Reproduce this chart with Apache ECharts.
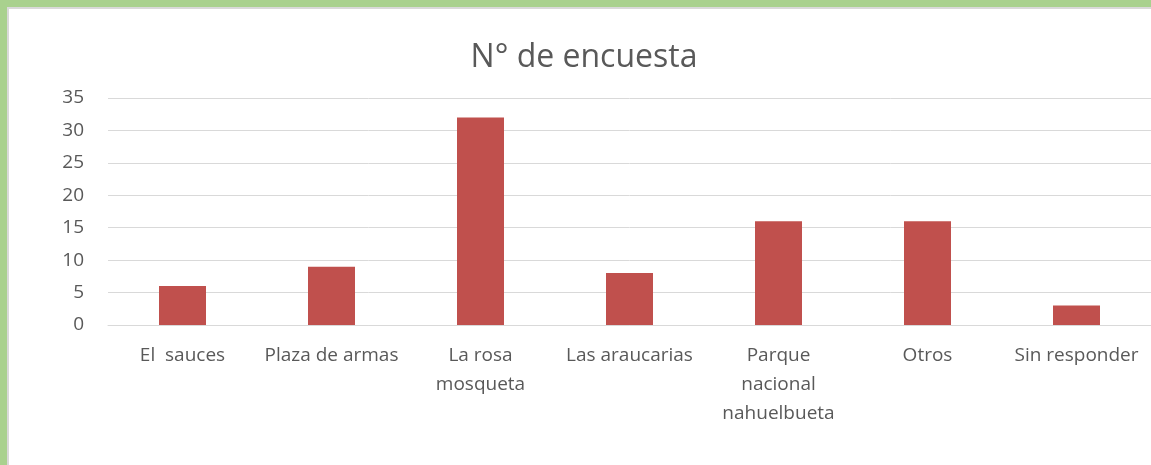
<!DOCTYPE html>
<html>
<head>
<meta charset="utf-8">
<script src="https://cdn.jsdelivr.net/npm/echarts@6/dist/echarts.min.js"></script>
<style>
  html, body { margin: 0; padding: 0; background: #fff; }
  #frame { width: 1144px; height: 458px; border-top: 7px solid #a9d18e; border-left: 7px solid #a9d18e; }
  #main { width: 1142px; height: 456px; border-top: 2px solid #d9d9d9; border-left: 2px solid #d9d9d9; }
</style>
</head>
<body>
<div id="frame"><div id="main"></div></div>
<script>
var categories = ['El  sauces', 'Plaza de armas', 'La rosa\nmosqueta', 'Las araucarias', 'Parque\nnacional\nnahuelbueta', 'Otros', 'Sin responder'];
var encuestas = [6, 9, 32, 8, 16, 16, 3];

var myChart = echarts.init(document.getElementById('main'));
var textColor = '#595959';
var font = 'Open Sans';

var option = {
    animation: false,
    title: {
        text: 'N° de encuesta',
        left: 570,
        top: 28,
        textAlign: 'center',
        textStyle: { fontFamily: font, fontSize: 32, fontWeight: 'normal', color: textColor }
    },
    grid: { left: 99, right: -2, top: 89, bottom: 140 },
    xAxis: {
        type: 'category',
        data: categories,
        axisTick: { show: false },
        axisLine: { lineStyle: { color: '#d9d9d9', width: 1 } },
        axisLabel: { interval: 0, margin: 16, color: textColor, fontFamily: font, fontSize: 19, lineHeight: 29 }
    },
    yAxis: {
        type: 'value',
        min: 0,
        max: 35,
        interval: 5,
        axisLine: { show: false },
        axisTick: { show: false },
        axisLabel: { margin: 24, color: textColor, fontFamily: font, fontSize: 19 },
        splitLine: { lineStyle: { color: '#d9d9d9', width: 1 } }
    },
    series: [{
        type: 'bar',
        data: encuestas,
        barWidth: 47,
        itemStyle: { color: '#c0504d' }
    }]
};

myChart.setOption(option);
</script>
</body>
</html>
